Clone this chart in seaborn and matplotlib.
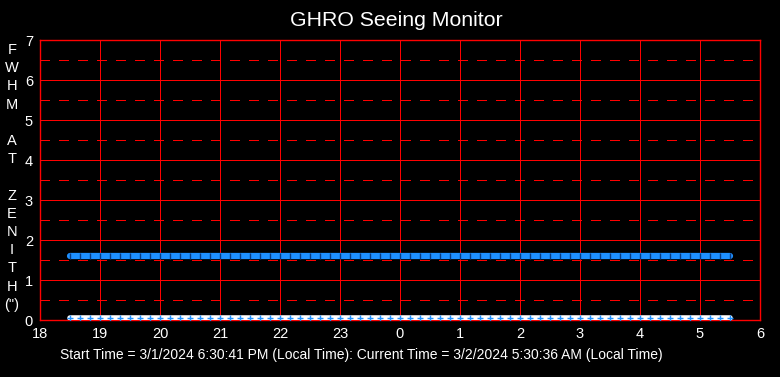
import matplotlib
matplotlib.use("Agg")
import matplotlib.pyplot as plt
import seaborn as sns
import pandas as pd

# ---- data ----
times = [
    "18:30", "18:40", "18:50", "19:00", "19:10", "19:20", "19:30", "19:40", "19:50",
    "20:00", "20:10", "20:20", "20:30", "20:40", "20:50",
    "21:00", "21:10", "21:20", "21:30", "21:40", "21:50",
    "22:00", "22:10", "22:20", "22:30", "22:40", "22:50",
    "23:00", "23:10", "23:20", "23:30", "23:40", "23:50",
    "00:00", "00:10", "00:20", "00:30", "00:40", "00:50",
    "01:00", "01:10", "01:20", "01:30", "01:40", "01:50",
    "02:00", "02:10", "02:20", "02:30", "02:40", "02:50",
    "03:00", "03:10", "03:20", "03:30", "03:40", "03:50",
    "04:00", "04:10", "04:20", "04:30", "04:40", "04:50",
    "05:00", "05:10", "05:20", "05:30",
]
fwhm_blue = [
    1.6, 1.6, 1.6, 1.6, 1.6, 1.6, 1.6, 1.6, 1.6, 1.6, 1.6, 1.6, 1.6, 1.6, 1.6,
    1.6, 1.6, 1.6, 1.6, 1.6, 1.6, 1.6, 1.6, 1.6, 1.6, 1.6, 1.6, 1.6, 1.6, 1.6,
    1.6, 1.6, 1.6, 1.6, 1.6, 1.6, 1.6, 1.6, 1.6, 1.6, 1.6, 1.6, 1.6, 1.6, 1.6,
    1.6, 1.6, 1.6, 1.6, 1.6, 1.6, 1.6, 1.6, 1.6, 1.6, 1.6, 1.6, 1.6, 1.6, 1.6,
    1.6, 1.6, 1.6, 1.6, 1.6, 1.6, 1.6,
]
fwhm_white = [
    0.04, 0.04, 0.04, 0.04, 0.04, 0.04, 0.04, 0.04, 0.04, 0.04, 0.04, 0.04, 0.04, 0.04, 0.04,
    0.04, 0.04, 0.04, 0.04, 0.04, 0.04, 0.04, 0.04, 0.04, 0.04, 0.04, 0.04, 0.04, 0.04, 0.04,
    0.04, 0.04, 0.04, 0.04, 0.04, 0.04, 0.04, 0.04, 0.04, 0.04, 0.04, 0.04, 0.04, 0.04, 0.04,
    0.04, 0.04, 0.04, 0.04, 0.04, 0.04, 0.04, 0.04, 0.04, 0.04, 0.04, 0.04, 0.04, 0.04, 0.04,
    0.04, 0.04, 0.04, 0.04, 0.04, 0.04, 0.04,
]
x_ticks = [18, 19, 20, 21, 22, 23, 24, 25, 26, 27, 28, 29, 30]
x_tick_labels = ["18", "19", "20", "21", "22", "23", "0", "1", "2", "3", "4", "5", "6"]
y_ticks = [0, 1, 2, 3, 4, 5, 6, 7]
title = "GHRO Seeing Monitor"
ylabel_letters = ["F", "W", "H", "M", "", "A", "T", "", "Z", "E", "N", "I", "T", "H", "(\")"]
footer = "Start Time = 3/1/2024 6:30:41 PM (Local Time): Current Time = 3/2/2024 5:30:36 AM (Local Time)"


def to_hours(t):
    h, m = t.split(":")
    h = int(h)
    if h < 12:
        h += 24
    return h + int(m) / 60.0


hours = [to_hours(t) for t in times]
df = pd.DataFrame({"hour": hours, "blue": fwhm_blue, "white": fwhm_white})

sns.set_style("dark")
plt.rcParams["font.family"] = ["Liberation Sans", "DejaVu Sans"]

RED = "#ff0000"
BLUE = "#1e90ff"
LW = 0.72

fig = plt.figure(figsize=(7.8, 3.77), dpi=100, facecolor="black")
ax = fig.add_axes([40 / 780, 1 - 320 / 377, 720 / 780, 280 / 377])
ax.set_facecolor("black")

# grid
for yv in y_ticks:
    ax.axhline(yv, color=RED, lw=LW, zorder=1, antialiased=False)
for yv in [0.5, 1.5, 2.5, 3.5, 4.5, 5.5, 6.5]:
    ax.axhline(yv, color=RED, lw=LW, ls=(0, (10.0, 10.0)), zorder=1, antialiased=False)
for xv in x_ticks:
    ax.axvline(xv, color=RED, lw=LW, zorder=1, antialiased=False)

sns.lineplot(data=df, x="hour", y="blue", ax=ax, color=BLUE, lw=4.5,
             marker="|", markersize=5, markeredgecolor="#0a3a80", markeredgewidth=1,
             zorder=3)
sns.lineplot(data=df, x="hour", y="white", ax=ax, color="white", lw=4,
             marker="+", markersize=4, markeredgecolor=BLUE, markeredgewidth=1,
             zorder=3)

ax.set_xlim(18, 30)
ax.set_ylim(0, 7)
ax.set_xticks(x_ticks)
ax.set_xticklabels(x_tick_labels)
ax.set_yticks(y_ticks)
ax.set_yticklabels([str(v) for v in y_ticks])
ax.tick_params(colors="white", labelsize=10.5, length=0, pad=5)
ax.set_xlabel("")
ax.set_ylabel("")
for s in ax.spines.values():
    s.set_visible(True)
    s.set_color(RED)
    s.set_linewidth(1.0)
ax.grid(False)

fig.text(396 / 780, 1 - 20 / 377, title, color="white", fontsize=15.3, ha="center", va="center")

y0 = 50
for i, ch in enumerate(ylabel_letters):
    if ch:
        fig.text(12 / 780, 1 - (y0 + i * 18.2) / 377, ch, color="white", fontsize=10.5,
                 ha="center", va="center")

fig.text(361 / 780, 1 - 355 / 377, footer, color="white", fontsize=10, ha="center", va="center")

fig.savefig("out.png", dpi=100, facecolor="black")
